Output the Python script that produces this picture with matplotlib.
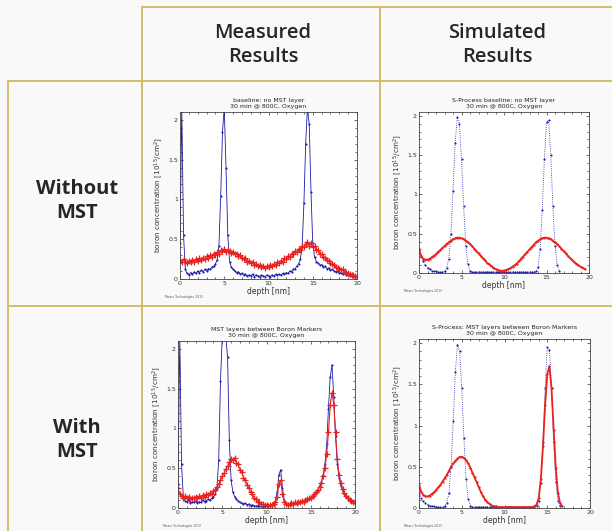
import numpy as np
import matplotlib
matplotlib.use('Agg')
import matplotlib.pyplot as plt
from matplotlib.lines import Line2D
from matplotlib.ticker import MultipleLocator

W, H = 612, 531

# headers
col_labels = ['Measured\nResults', 'Simulated\nResults']
row_labels = ['Without\nMST', 'With\nMST']

titles = [['baseline: no MST layer\n30 min @ 800C, Oxygen',
           'S-Process baseline: no MST layer\n30 min @ 800C, Oxygen'],
          ['MST layers between Boron Markers\n30 min @ 800C, Oxygen',
           'S-Process: MST layers between Boron Markers\n30 min @ 800C, Oxygen']]

# measured data, 0.2 nm steps from 0 to 20 nm
meas_step = 0.2
mt_blue = [0.45, 2.15, 0.55, 0.12, 0.07, 0.05, 0.08, 0.06, 0.09, 0.07,
           0.10, 0.08, 0.11, 0.09, 0.12, 0.10, 0.13, 0.12, 0.15, 0.16,
           0.19, 0.24, 0.42, 1.05, 1.85, 2.15, 1.40, 0.55, 0.22, 0.15,
           0.12, 0.10, 0.08, 0.09, 0.06, 0.07, 0.05, 0.06, 0.04, 0.05,
           0.04, 0.06, 0.03, 0.05, 0.04, 0.03, 0.05, 0.04, 0.03, 0.05,
           0.04, 0.03, 0.05, 0.04, 0.06, 0.05, 0.06, 0.05, 0.07, 0.06,
           0.08, 0.07, 0.10, 0.09, 0.12, 0.13, 0.16, 0.19, 0.25, 0.40,
           0.95, 1.70, 2.15, 1.95, 1.10, 0.45, 0.28, 0.22, 0.20, 0.17,
           0.18, 0.15, 0.16, 0.13, 0.14, 0.11, 0.12, 0.10, 0.09, 0.10,
           0.07, 0.08, 0.06, 0.07, 0.05, 0.05, 0.04, 0.04, 0.03, 0.03,
           0.02]
mt_red = [0.24, 0.21, 0.25, 0.22, 0.20, 0.23, 0.21, 0.24, 0.22, 0.25,
          0.23, 0.26, 0.24, 0.27, 0.25, 0.29, 0.27, 0.30, 0.28, 0.32,
          0.30, 0.34, 0.32, 0.36, 0.35, 0.38, 0.34, 0.37, 0.35, 0.33,
          0.34, 0.31, 0.32, 0.29, 0.30, 0.27, 0.25, 0.26, 0.22, 0.23,
          0.20, 0.21, 0.18, 0.19, 0.16, 0.17, 0.15, 0.16, 0.14, 0.16,
          0.15, 0.17, 0.16, 0.19, 0.18, 0.21, 0.20, 0.23, 0.22, 0.26,
          0.25, 0.29, 0.28, 0.32, 0.31, 0.35, 0.34, 0.38, 0.37, 0.41,
          0.40, 0.44, 0.46, 0.42, 0.45, 0.40, 0.41, 0.36, 0.37, 0.32,
          0.31, 0.28, 0.27, 0.24, 0.23, 0.20, 0.19, 0.17, 0.15, 0.14,
          0.13, 0.11, 0.12, 0.09, 0.08, 0.07, 0.06, 0.05, 0.05, 0.04,
          0.03]
mb_blue = [0.30, 2.15, 0.55, 0.14, 0.09, 0.07, 0.10, 0.06, 0.08, 0.07,
           0.09, 0.06, 0.08, 0.07, 0.10, 0.08, 0.09, 0.11, 0.10, 0.12,
           0.14, 0.17, 0.25, 0.60, 1.60, 2.15, 2.15, 2.15, 1.90, 0.85,
           0.35, 0.20, 0.14, 0.11, 0.09, 0.07, 0.06, 0.05, 0.06, 0.04,
           0.05, 0.03, 0.04, 0.03, 0.02, 0.03, 0.02, 0.02, 0.01, 0.02,
           0.02, 0.03, 0.02, 0.04, 0.05, 0.09, 0.20, 0.42, 0.48, 0.25,
           0.10, 0.06, 0.04, 0.05, 0.04, 0.05, 0.06, 0.05, 0.07, 0.06,
           0.08, 0.07, 0.09, 0.10, 0.11, 0.12, 0.14, 0.16, 0.19, 0.22,
           0.27, 0.33, 0.42, 0.55, 0.80, 1.25, 1.65, 1.80, 1.40, 0.90,
           0.55, 0.38, 0.28, 0.22, 0.17, 0.14, 0.12, 0.10, 0.08, 0.07,
           0.06]
mb_red = [0.25, 0.18, 0.15, 0.13, 0.15, 0.12, 0.14, 0.11, 0.13, 0.12,
          0.14, 0.12, 0.15, 0.13, 0.16, 0.14, 0.17, 0.16, 0.19, 0.18,
          0.21, 0.23, 0.26, 0.30, 0.35, 0.40, 0.44, 0.49, 0.53, 0.58,
          0.62, 0.60, 0.63, 0.57, 0.55, 0.48, 0.45, 0.38, 0.35, 0.29,
          0.25, 0.20, 0.17, 0.13, 0.11, 0.08, 0.07, 0.05, 0.05, 0.04,
          0.04, 0.03, 0.04, 0.04, 0.05, 0.07, 0.14, 0.30, 0.35, 0.18,
          0.08, 0.05, 0.04, 0.05, 0.06, 0.05, 0.07, 0.06, 0.08, 0.07,
          0.09, 0.08, 0.10, 0.11, 0.12, 0.13, 0.15, 0.17, 0.20, 0.23,
          0.27, 0.32, 0.40, 0.50, 0.68, 0.95, 1.30, 1.45, 1.30, 0.95,
          0.62, 0.42, 0.31, 0.24, 0.19, 0.15, 0.13, 0.10, 0.09, 0.07,
          0.06]

# simulated data, 0.25 nm steps starting at 0
sim_step = 0.25
st_blue = [0.30, 0.22, 0.15, 0.10, 0.07, 0.05, 0.03, 0.02,
           0.02, 0.01, 0.01, 0.01, 0.02, 0.06, 0.18, 0.50,
           1.05, 1.65, 1.98, 1.90, 1.45, 0.85, 0.35, 0.11,
           0.03, 0.01, 0.01, 0.01, 0.01, 0.01, 0.01, 0.01,
           0.01, 0.01, 0.01, 0.01, 0.01, 0.01, 0.01, 0.01,
           0.01, 0.01, 0.01, 0.01, 0.01, 0.01, 0.01, 0.01,
           0.01, 0.01, 0.01, 0.01, 0.01, 0.01, 0.01, 0.02,
           0.08, 0.30, 0.80, 1.45, 1.92, 1.95, 1.50, 0.85,
           0.35, 0.10, 0.03]
st_red = [0.31, 0.22, 0.18, 0.17, 0.17, 0.18, 0.20, 0.22,
          0.24, 0.27, 0.29, 0.32, 0.34, 0.37, 0.39, 0.41,
          0.43, 0.44, 0.45, 0.45, 0.44, 0.43, 0.41, 0.39,
          0.37, 0.34, 0.31, 0.28, 0.25, 0.22, 0.19, 0.16,
          0.13, 0.11, 0.09, 0.07, 0.05, 0.04, 0.03, 0.03,
          0.03, 0.04, 0.05, 0.06, 0.08, 0.10, 0.12, 0.15,
          0.18, 0.21, 0.24, 0.27, 0.30, 0.33, 0.36, 0.39,
          0.41, 0.43, 0.44, 0.45, 0.45, 0.44, 0.43, 0.41,
          0.39, 0.37, 0.34, 0.31, 0.28, 0.25, 0.22, 0.19,
          0.17, 0.14, 0.12, 0.10, 0.08, 0.07, 0.05]
sb_blue = [0.17, 0.12, 0.08, 0.06, 0.04, 0.03, 0.02, 0.02,
           0.01, 0.01, 0.01, 0.01, 0.02, 0.06, 0.18, 0.50,
           1.05, 1.65, 1.98, 1.90, 1.45, 0.85, 0.35, 0.11,
           0.03, 0.01, 0.01, 0.01, 0.01, 0.01, 0.01, 0.01,
           0.01, 0.01, 0.01, 0.01, 0.01, 0.01, 0.01, 0.01,
           0.01, 0.01, 0.01, 0.01, 0.01, 0.01, 0.01, 0.01,
           0.01, 0.01, 0.01, 0.01, 0.01, 0.01, 0.01, 0.02,
           0.08, 0.30, 0.80, 1.45, 1.95, 1.92, 1.45, 0.80,
           0.32, 0.09, 0.02]
sb_red = [0.28, 0.20, 0.16, 0.14, 0.14, 0.15, 0.17, 0.19,
          0.22, 0.25, 0.28, 0.32, 0.36, 0.40, 0.45, 0.50,
          0.54, 0.57, 0.60, 0.62, 0.62, 0.61, 0.58, 0.54,
          0.49, 0.43, 0.37, 0.31, 0.25, 0.19, 0.14, 0.10,
          0.07, 0.05, 0.03, 0.02, 0.02, 0.01, 0.01, 0.01,
          0.01, 0.01, 0.01, 0.01, 0.01, 0.01, 0.01, 0.01,
          0.01, 0.01, 0.01, 0.01, 0.01, 0.01, 0.02, 0.04,
          0.12, 0.35, 0.75, 1.25, 1.62, 1.72, 1.45, 0.95,
          0.48, 0.18, 0.06, 0.02]

panels = [[(mt_blue, mt_red, meas_step, 2.1), (st_blue, st_red, sim_step, 2.05)],
          [(mb_blue, mb_red, meas_step, 2.1), (sb_blue, sb_red, sim_step, 2.05)]]

# axes boxes in pixels: left, top, right, bottom
boxes = [[(180, 112, 357, 279), (419, 112, 589, 273)],
         [(178, 341, 355, 508), (419, 339, 590, 508)]]

blue = '#1a1aa8'
red = '#e8231f'
gold = '#d6bc6a'

fig = plt.figure(figsize=(W / 100, H / 100), dpi=100, facecolor='#f9f9f9')


def fx(x):
    return x / W


def fy(y):
    return 1 - y / H


def hline(y, x0, x1):
    fig.add_artist(Line2D([fx(x0), fx(x1)], [fy(y), fy(y)], color=gold, lw=1.4))


def vline(x, y0, y1):
    fig.add_artist(Line2D([fx(x), fx(x)], [fy(y0), fy(y1)], color=gold, lw=1.4))


# table lines
hline(7, 142, W)
hline(81, 8, W)
hline(306, 8, W)
vline(142, 7, H)
vline(380, 7, H)
vline(8, 81, H)

for j, lab in enumerate(col_labels):
    cx = [263, 497][j]
    fig.text(fx(cx), fy(45), lab, ha='center', va='center', fontsize=14.5,
             family='Open Sans', weight='semibold', color='#262626', linespacing=1.25)
for i, lab in enumerate(row_labels):
    cy = [201, 440][i]
    fig.text(fx(77), fy(cy), lab, ha='center', va='center', fontsize=14.5,
             family='Open Sans', weight='bold', color='#262626', linespacing=1.25)

for i in range(2):
    for j in range(2):
        b, r, step, top = panels[i][j]
        l, t, rt, bt = boxes[i][j]
        ax = fig.add_axes([fx(l), fy(bt), (rt - l) / W, (bt - t) / H])
        ax.set_facecolor('white')
        xb = np.arange(len(b)) * step
        xr = np.arange(len(r)) * step
        if j == 0:
            ax.plot(xb, b, color=blue, lw=0.6, marker='.', ms=3, mew=0)
            ax.plot(xr, r, color=red, lw=0.8, marker='+', ms=4, mew=0.9)
        else:
            ax.plot(xb, b, color=blue, lw=0.6, ls=':', marker='.', ms=3, mew=0)
            ax.plot(xr, r, color=red, lw=1.3, marker='.', ms=3.2, mew=0)
        ax.set_xlim(0, 20)
        ax.set_ylim(0, top)
        ax.xaxis.set_major_locator(MultipleLocator(5))
        ax.xaxis.set_minor_locator(MultipleLocator(1))
        ax.yaxis.set_minor_locator(MultipleLocator(0.1))
        ax.set_yticks([0, 0.5, 1, 1.5, 2])
        ax.set_yticklabels(['0', '0.5', '1', '1.5', '2'])
        ax.tick_params(which='both', direction='in', top=True, right=True,
                       labelsize=4.5, pad=1.5, width=0.5, colors='#333333')
        ax.tick_params(which='major', length=2.5)
        ax.tick_params(which='minor', length=1.3)
        for s in ax.spines.values():
            s.set_linewidth(0.6)
            s.set_color('#444444')
        ax.set_title(titles[i][j], fontsize=4.5, pad=3, linespacing=1.2, color='#222222')
        ax.set_xlabel('depth [nm]', fontsize=5.5, labelpad=1, color='#333333')
        ax.set_ylabel('boron concentration [10$^{15}$/cm$^2$]', fontsize=5.2,
                      labelpad=2, color='#333333')
        fig.text(fx(l - 15), fy(bt + 18), 'Mears Technologies 2013', fontsize=2.2,
                 color='#555555', va='center')

fig.savefig('out.png', dpi=100, facecolor=fig.get_facecolor())
